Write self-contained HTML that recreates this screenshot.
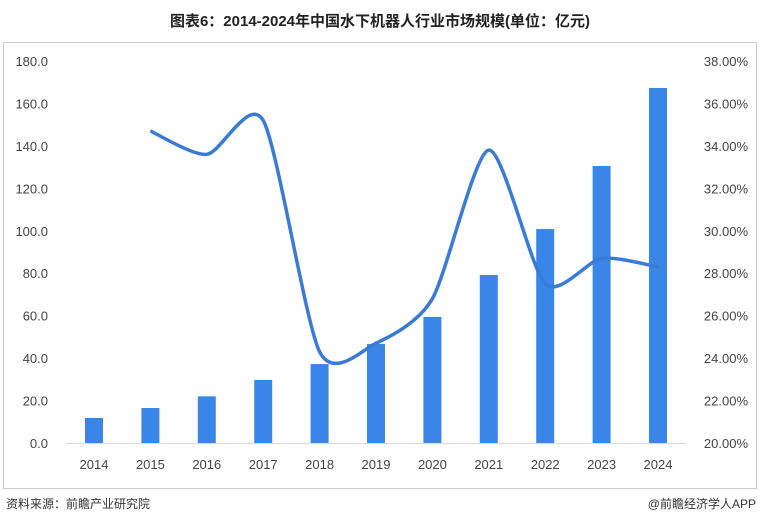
<!DOCTYPE html>
<html><head><meta charset="utf-8"><style>
body{margin:0;width:760px;height:524px;background:#fff;font-family:"Liberation Sans","Noto Sans CJK SC",sans-serif;overflow:hidden}
</style></head><body>
<svg width="760" height="524" xmlns="http://www.w3.org/2000/svg">
<text x="380" y="26" text-anchor="middle" font-size="15" font-weight="bold" fill="#222" font-family="Liberation Sans, Noto Sans CJK SC, sans-serif">图表6：2014-2024年中国水下机器人行业市场规模(单位：亿元)</text>
<rect x="3.5" y="42.5" width="753" height="446" fill="none" stroke="#d0d0d0"/>
<g id="yl"></g>
<g id="yr"></g>
<line x1="66" y1="443.5" x2="686" y2="443.5" stroke="#d9d9d9"/>
<g id="xl"></g>
<g id="bars"></g>
<path id="line" fill="none" stroke="#3a7bd5" stroke-width="3.5"/>
<text x="6" y="508" font-size="12" fill="#333">资料来源：前瞻产业研究院</text>
<text x="756" y="508" font-size="12" fill="#333" text-anchor="end">@前瞻经济学人APP</text>
</svg>
<script>
const years=["2014","2015","2016","2017","2018","2019","2020","2021","2022","2023","2024"];
const sizes=[11.8,16.5,22.0,29.7,37.2,46.7,59.4,79.2,100.8,130.5,167.3];
const ratioYears=["2015","2016","2017","2018","2019","2020","2021","2022","2023","2024"];
const ratios=[34.7,33.6,35.2,24.3,24.7,26.8,33.8,27.5,28.7,28.3];
const leftTicks=[0,20,40,60,80,100,120,140,160,180];
const rightTicks=[20,22,24,26,28,30,32,34,36,38];
const NS="http://www.w3.org/2000/svg";
const y0=443,y1=61;
const yL=v=>y0-(v/180)*(y0-y1);
const yR=v=>y0-((v-20)/18)*(y0-y1);
const xC=i=>94+i*56.4;
function mk(t,a,p){const e=document.createElementNS(NS,t);for(const k in a)e.setAttribute(k,a[k]);p.appendChild(e);return e;}
const gl=document.getElementById('yl'),gr=document.getElementById('yr'),gx=document.getElementById('xl'),gb=document.getElementById('bars');
leftTicks.forEach(v=>{const t=mk('text',{x:48,y:yL(v)+5,'text-anchor':'end','font-size':13,fill:'#444'},gl);t.textContent=v.toFixed(1);

});
rightTicks.forEach(v=>{const t=mk('text',{x:748,y:yR(v)+5,'text-anchor':'end','font-size':13,fill:'#444'},gr);t.textContent=v.toFixed(2)+'%';

});
years.forEach((y,i)=>{const t=mk('text',{x:xC(i),y:469,'text-anchor':'middle','font-size':13,fill:'#444'},gx);t.textContent=y;


const r=mk('rect',{x:xC(i)-9,y:yL(sizes[i]),width:18,height:y0-yL(sizes[i]),fill:'#3a86e8'},gb);

});
const pts=ratioYears.map((y,i)=>[xC(years.indexOf(y)),yR(ratios[i])]);
let d='M'+pts[0][0]+','+pts[0][1];
for(let i=0;i<pts.length-1;i++){const p0=pts[Math.max(i-1,0)],p1=pts[i],p2=pts[i+1],p3=pts[Math.min(i+2,pts.length-1)];
const k=1/8;d+=` C${p1[0]+(p2[0]-p0[0])*k},${p1[1]+(p2[1]-p0[1])*k} ${p2[0]-(p3[0]-p1[0])*k},${p2[1]-(p3[1]-p1[1])*k} ${p2[0]},${p2[1]}`;}
document.getElementById('line').setAttribute('d',d);
</script>
</body></html>
